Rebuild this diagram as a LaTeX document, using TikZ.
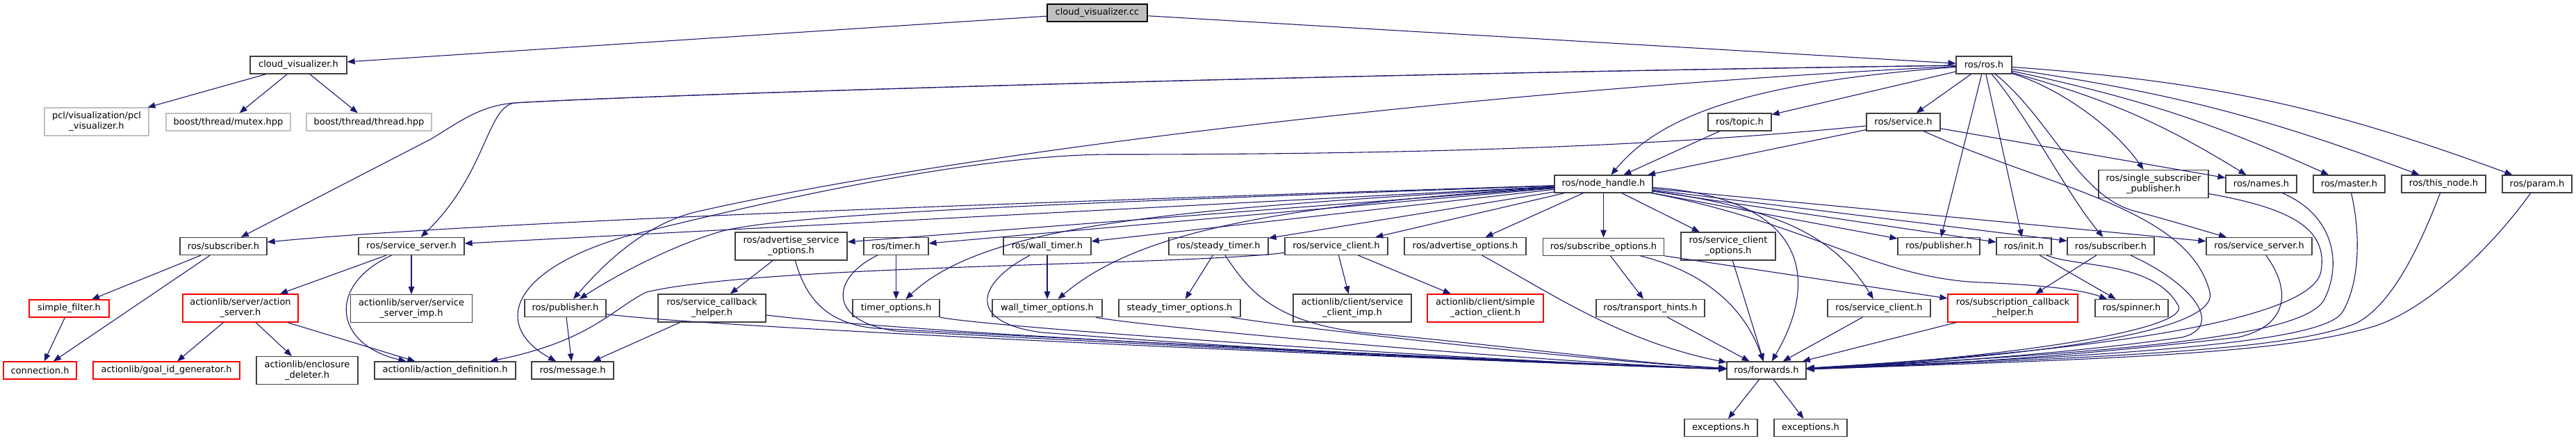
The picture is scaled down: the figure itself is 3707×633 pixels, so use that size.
\documentclass[tikz,border=0pt]{standalone}
\usepackage{fontspec}
\setmainfont{DejaVu Sans}
\usepackage{xcolor}
\usetikzlibrary{arrows.meta, positioning}

\definecolor{edgeblue}{HTML}{191970}
\definecolor{rootgrey}{HTML}{BFBFBF}
\definecolor{docgrey}{HTML}{404040}

\begin{document}
\begin{tikzpicture}[
    x=1pt, y=-1pt,
    filebox/.style={rectangle, draw=docgrey, fill=white, line width=1.2pt, inner sep=0pt, minimum height=25pt, align=center, font=\fontsize{13}{15}\selectfont},
    twoline/.style={minimum height=40pt},
    rootbox/.style={filebox, fill=rootgrey, draw=black},
    extbox/.style={filebox, draw=rootgrey},
    cutbox/.style={filebox, draw=red},
    arrow/.style={-{Triangle[length=11pt, width=8.5pt]}, line width=1.1pt, color=edgeblue}
]
    \useasboundingbox (0,0) rectangle (3707,633);

    % Root file
    \node (cc) [rootbox, minimum width=144pt] at (1579,18.5) {cloud\_visualizer.cc};

    % First level includes
    \node (cvh) [filebox, minimum width=139pt] at (429.5,93.5) {cloud\_visualizer.h};
    \node (ros) [filebox, minimum width=80pt] at (2855,93.5) {ros/ros.h};

    % External headers and ros level 2
    \node (pcl) [extbox, twoline, minimum width=150pt] at (139,175) {pcl/visualization/pcl\\\_visualizer.h};
    \node (mutex) [extbox, minimum width=179pt] at (328.5,175.5) {boost/thread/mutex.hpp};
    \node (thread) [extbox, minimum width=180pt] at (531,175.5) {boost/thread/thread.hpp};
    \node (topic) [filebox, minimum width=91pt] at (2503.5,175.5) {ros/topic.h};
    \node (service) [filebox, minimum width=106pt] at (2739,175.5) {ros/service.h};

    % Node handle row
    \node (nh) [filebox, minimum width=141pt] at (2307.5,264.5) {ros/node\_handle.h};
    \node (ssp) [filebox, twoline, minimum width=158pt] at (3099,264.5) {ros/single\_subscriber\\\_publisher.h};
    \node (names) [filebox, minimum width=102pt] at (3254,264.5) {ros/names.h};
    \node (master) [filebox, minimum width=103pt] at (3380.5,264.5) {ros/master.h};
    \node (thisnode) [filebox, minimum width=121pt] at (3516.5,264.5) {ros/this\_node.h};
    \node (param) [filebox, minimum width=100pt] at (3651,264.5) {ros/param.h};

    % Handle includes row
    \node (subL) [filebox, minimum width=125pt] at (321.5,354) {ros/subscriber.h};
    \node (ssL) [filebox, minimum width=152pt] at (592,354) {ros/service\_server.h};
    \node (aso) [filebox, twoline, minimum width=161pt] at (1138.5,354) {ros/advertise\_service\\\_options.h};
    \node (timer) [filebox, minimum width=93pt] at (1289.5,354) {ros/timer.h};
    \node (wtimer) [filebox, minimum width=126pt] at (1507,354) {ros/wall\_timer.h};
    \node (stimer) [filebox, minimum width=143pt] at (1753.5,354) {ros/steady\_timer.h};
    \node (scU) [filebox, minimum width=148pt] at (1923,354) {ros/service\_client.h};
    \node (advopt) [filebox, minimum width=175pt] at (2108.5,354) {ros/advertise\_options.h};
    \node (subopt) [filebox, minimum width=174pt, below=64pt of nh] {ros/subscribe\_options.h};
    \node (sco) [filebox, twoline, minimum width=136pt] at (2487,354) {ros/service\_client\\\_options.h};
    \node (pubR) [filebox, minimum width=118pt] at (2790,354) {ros/publisher.h};
    \node (init) [filebox, minimum width=79pt] at (2912.5,354) {ros/init.h};
    \node (subR) [filebox, minimum width=125pt] at (3037.5,354) {ros/subscriber.h};
    \node (ssR) [filebox, minimum width=152pt] at (3251,354) {ros/service\_server.h};

    % Helpers and options row
    \node (sfilter) [cutbox, minimum width=115pt] at (99.5,443.5) {simple\_filter.h};
    \node (aserver) [cutbox, twoline, minimum width=166pt] at (346,443) {actionlib/server/action\\\_server.h};
    \node (ssimp) [filebox, twoline, minimum width=175pt, below=56pt of ssL] {actionlib/server/service\\\_server\_imp.h};
    \node (pubL) [filebox, minimum width=117pt] at (813.5,443) {ros/publisher.h};
    \node (sch) [filebox, twoline, minimum width=155pt] at (1024.5,443) {ros/service\_callback\\\_helper.h};
    \node (topts) [filebox, minimum width=125pt, below=63pt of timer] {timer\_options.h};
    \node (wtopts) [filebox, minimum width=158pt, below=63pt of wtimer] {wall\_timer\_options.h};
    \node (stopts) [filebox, minimum width=175pt] at (1697.5,443) {steady\_timer\_options.h};
    \node (scimp) [filebox, twoline, minimum width=170pt] at (1946,443) {actionlib/client/service\\\_client\_imp.h};
    \node (sac) [cutbox, twoline, minimum width=167pt] at (2137.5,443) {actionlib/client/simple\\\_action\_client.h};
    \node (thints) [filebox, minimum width=156pt] at (2375,443) {ros/transport\_hints.h};
    \node (scL) [filebox, minimum width=148pt] at (2704,443) {ros/service\_client.h};
    \node (subcb) [cutbox, twoline, minimum width=187pt] at (2896.5,443) {ros/subscription\_callback\\\_helper.h};
    \node (spinner) [filebox, minimum width=105pt] at (3067.5,443) {ros/spinner.h};

    % Leaf row
    \node (conn) [cutbox, minimum width=105pt] at (57.5,532.5) {connection.h};
    \node (goalid) [cutbox, minimum width=211pt] at (239.5,532.5) {actionlib/goal\_id\_generator.h};
    \node (encl) [filebox, twoline, minimum width=146pt] at (442,532.5) {actionlib/enclosure\\\_deleter.h};
    \node (actdef) [filebox, minimum width=203pt] at (640.5,532.5) {actionlib/action\_definition.h};
    \node (message) [filebox, minimum width=118pt] at (824,532.5) {ros/message.h};
    \node (forwards) [filebox, minimum width=114pt] at (2542,532.5) {ros/forwards.h};
    \node (exc1) [filebox, minimum width=105pt] at (2476.5,615) {exceptions.h};
    \node (exc2) [filebox, minimum width=105pt] at (2605.5,615) {exceptions.h};

    % Root and visualizer arrows
    \draw [arrow] (cc) -- (cvh);
    \draw [arrow] (cc) -- (ros);
    \draw [arrow] (cvh) -- (pcl);
    \draw [arrow] (cvh) -- (mutex);
    \draw [arrow] (cvh) -- (thread);

    % ros/ros.h arrows
    \draw [arrow] (ros) -- (topic);
    \draw [arrow] (ros) -- (service);
    \draw [arrow] (ros) .. controls (2520,118) and (2390,165) .. (nh);
    \draw [arrow] (ros) .. controls (1800,108) and (900,138) .. (740,148) .. controls (690,152) and (660,176) .. (620,200) -- (subL);
    \draw [arrow] (ros) .. controls (1800,108) and (900,138) .. (740,148) .. controls (700,155) and (700,250) .. (ssL);
    \draw [arrow] (ros) .. controls (2100,130) and (1350,225) .. (1000,305) .. controls (920,325) and (860,390) .. (pubL);
    \draw [arrow] (ros) -- (pubR);
    \draw [arrow] (ros) -- (init);
    \draw [arrow] (ros) .. controls (2920,170) and (2975,280) .. (subR);
    \draw [arrow] (ros) .. controls (2950,170) and (2990,280) .. (3070,303) .. controls (3120,316) and (3165,330) .. (ssR);
    \draw [arrow] (ros) .. controls (2960,125) and (3040,180) .. (ssp);
    \draw [arrow] (ros) to[bend left=8] (names);
    \draw [arrow] (ros) to[bend left=6] (master);
    \draw [arrow] (ros) to[bend left=6] (thisnode);
    \draw [arrow] (ros) to[bend left=8] (param);

    % Topic and service arrows
    \draw [arrow] (topic) -- (nh);
    \draw [arrow] (service) -- (nh);
    \draw [arrow] (service) -- (names);
    \draw [arrow] (service) .. controls (2350,215) and (1950,222) .. (1600,222) .. controls (1400,222) and (1100,290) .. (900,340) .. controls (730,390) and (710,470) .. (message);
    \draw [arrow] (service) .. controls (2950,270) and (3150,300) .. (3180,420) .. controls (3195,480) and (2900,515) .. (forwards);

    % Node handle arrows
    \draw [arrow] (nh) .. controls (1500,290) and (700,318) .. (subL);
    \draw [arrow] (nh) -- (ssL);
    \draw [arrow] (nh) .. controls (1600,290) and (1150,305) .. (1040,332) .. controls (960,355) and (880,400) .. (pubL);
    \draw [arrow] (nh) -- (aso);
    \draw [arrow] (nh) -- (timer);
    \draw [arrow] (nh) .. controls (1700,300) and (1420,320) .. (topts);
    \draw [arrow] (nh) -- (wtimer);
    \draw [arrow] (nh) .. controls (1850,295) and (1640,330) .. (wtopts);
    \draw [arrow] (nh) -- (stimer);
    \draw [arrow] (nh) -- (scU);
    \draw [arrow] (nh) -- (advopt);
    \draw [arrow] (nh) -- (subopt);
    \draw [arrow] (nh) -- (sco);
    \draw [arrow] (nh) .. controls (2600,285) and (2620,400) .. (forwards);
    \draw [arrow] (nh) .. controls (2560,300) and (2640,340) .. (scL);
    \draw [arrow] (nh) .. controls (2600,320) and (2700,400) .. (2850,406) .. controls (2950,410) and (3000,418) .. (spinner);
    \draw [arrow] (nh) -- (pubR);
    \draw [arrow] (nh) -- (init);
    \draw [arrow] (nh) -- (subR);
    \draw [arrow] (nh) -- (ssR);

    % Left bundle into forwards
    \draw [arrow] (pubL) .. controls (1000,470) and (2000,515) .. (forwards);
    \draw [arrow] (sch) .. controls (1300,478) and (2050,515) .. (forwards);
    \draw [arrow] (aso) .. controls (1160,430) and (1190,465) .. (1260,472) .. controls (1700,495) and (2150,518) .. (forwards);
    \draw [arrow] (timer) .. controls (1195,400) and (1190,462) .. (1290,476) .. controls (1750,500) and (2150,520) .. (forwards);
    \draw [arrow] (topts) .. controls (1420,470) and (2100,518) .. (forwards);
    \draw [arrow] (wtimer) .. controls (1400,410) and (1395,465) .. (1500,478) .. controls (1850,505) and (2200,522) .. (forwards);
    \draw [arrow] (wtopts) .. controls (1650,470) and (2200,520) .. (forwards);
    \draw [arrow] (stimer) .. controls (1790,405) and (1820,462) .. (1960,478) .. controls (2150,495) and (2350,522) .. (forwards);
    \draw [arrow] (stopts) .. controls (1850,470) and (2300,520) .. (forwards);
    \draw [arrow] (advopt) .. controls (2230,420) and (2330,490) .. (forwards);

    % Options and helpers
    \draw [arrow] (timer) -- (topts);
    \draw [arrow] (wtimer) -- (wtopts);
    \draw [arrow] (stimer) -- (stopts);
    \draw [arrow] (aso) -- (sch);
    \draw [arrow] (sch) -- (message);
    \draw [arrow] (pubL) -- (message);
    \draw [arrow] (scU) -- (scimp);
    \draw [arrow] (scU) -- (sac);
    \draw [arrow] (scU) .. controls (1700,382) and (1100,380) .. (930,420) .. controls (880,445) and (850,490) .. (actdef);
    \draw [arrow] (subopt) -- (thints);
    \draw [arrow] (subopt) -- (subcb);
    \draw [arrow] (subopt) .. controls (2450,390) and (2510,440) .. (forwards);
    \draw [arrow] (sco) -- (forwards);
    \draw [arrow] (thints) -- (forwards);
    \draw [arrow] (scL) -- (forwards);
    \draw [arrow] (subcb) -- (forwards);
    \draw [arrow] (subR) -- (subcb);
    \draw [arrow] (init) -- (spinner);

    % Right bundle into forwards
    \draw [arrow] (init) .. controls (2990,385) and (3100,375) .. (3135,440) .. controls (3150,475) and (2880,515) .. (forwards);
    \draw [arrow] (subR) .. controls (3160,410) and (3200,470) .. (3140,485) .. controls (3000,505) and (2800,522) .. (forwards);
    \draw [arrow] (ssR) .. controls (3300,420) and (3290,470) .. (3220,485) .. controls (3000,510) and (2800,525) .. (forwards);
    \draw [arrow] (ssp) .. controls (3300,300) and (3350,330) .. (3340,390) .. controls (3330,450) and (3100,500) .. (forwards);
    \draw [arrow] (names) .. controls (3360,310) and (3370,380) .. (3345,430) .. controls (3320,480) and (3100,505) .. (forwards);
    \draw [arrow] (master) .. controls (3398,340) and (3395,410) .. (3370,450) .. controls (3340,490) and (3100,510) .. (forwards);
    \draw [arrow] (thisnode) .. controls (3480,360) and (3440,440) .. (3390,465) .. controls (3300,500) and (3100,512) .. (forwards);
    \draw [arrow] (param) .. controls (3590,350) and (3500,440) .. (3420,468) .. controls (3300,505) and (3100,515) .. (forwards);

    % Left side subtree
    \draw [arrow] (subL) -- (sfilter);
    \draw [arrow] (subL) -- (conn);
    \draw [arrow] (sfilter) -- (conn);
    \draw [arrow] (ssL) -- (aserver);
    \draw [arrow] (ssL) -- (ssimp);
    \draw [arrow] (ssL) .. controls (470,410) and (480,495) .. (actdef);
    \draw [arrow] (aserver) -- (goalid);
    \draw [arrow] (aserver) -- (encl);
    \draw [arrow] (aserver) -- (actdef);

    % Forwards leaves
    \draw [arrow] (forwards) -- (exc1);
    \draw [arrow] (forwards) -- (exc2);

\end{tikzpicture}
\end{document}
